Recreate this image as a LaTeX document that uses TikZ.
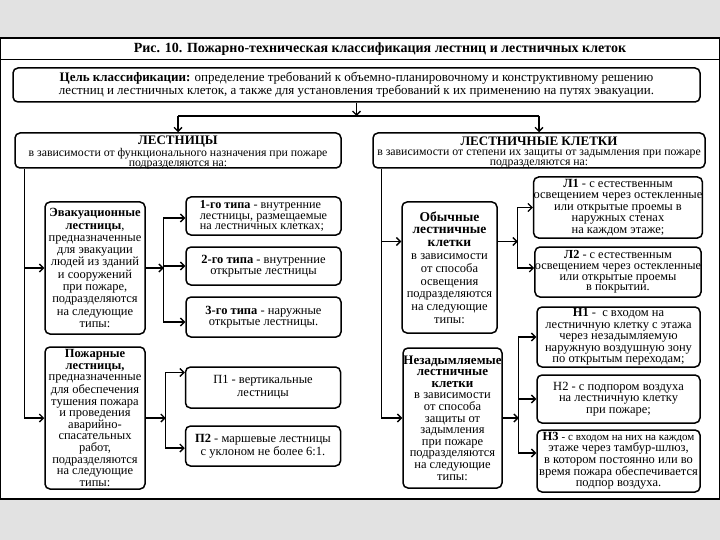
\documentclass[tikz,border=0pt]{standalone}
\usepackage{fontspec}
\setmainfont{Liberation Serif}
\usetikzlibrary{arrows.meta,calc}
\definecolor{bggray}{RGB}{226,226,226}
\begin{document}
\begin{tikzpicture}[x=1pt,y=-1pt,
  box/.style={draw, line width=1.5pt, rounded corners=5pt, fill=white, inner sep=0pt,
    align=center, font=\fontsize{12.5}{11.5}\selectfont},
  htext/.style={inner sep=0pt, align=center, font=\fontsize{11.8}{10}\selectfont},
  conn/.style={line width=1.3pt},
  arr/.style={line width=1.3pt, -{Straight Barb[length=4pt,width=8pt]}}
]
\fill[bggray] (0,0) rectangle (720,540);
\useasboundingbox (0,0) rectangle (720,540);
\draw[line width=1.3pt, fill=white] (0.7,38) rectangle (719.3,499);
\draw[line width=1pt] (0.7,60) -- (719.3,60);
\node (title) at (380,49) {\fontsize{14}{14}\selectfont\bfseries Рис. 10. Пожарно-техническая классификация лестниц и лестничных клеток};

% goal
\node[box, minimum width=687pt, minimum height=34pt, font=\fontsize{13}{12.5}\selectfont] (goal) at (356.5,85)
  {\textbf{Цель классификации:} определение требований к объемно-планировочному и конструктивному решению\\
   лестниц и лестничных клеток, а также для установления требований к их применению на путях эвакуации.};

% headers
\node[box, minimum width=326pt, minimum height=35pt] (lh) at (178,150.5) {};
\node[htext] (lht) at (178,152.3)
  {{\fontsize{13}{11}\selectfont\bfseries ЛЕСТНИЦЫ}\\
   в зависимости от функционального назначения при пожаре\\
   подразделяются на:};
\node[box, minimum width=332pt, minimum height=35pt] (rh) at (539,150.5) {};
\node[htext] (rht) at (539,152.3)
  {{\fontsize{13}{11}\selectfont\bfseries ЛЕСТНИЧНЫЕ КЛЕТКИ}\\
   в зависимости от степени их защиты от задымления при пожаре\\
   подразделяются на:};

% left column
\node[box, minimum width=100pt, minimum height=132pt, font=\fontsize{12.5}{12.3}\selectfont] (ev) at (95,268)
  {\textbf{Эвакуационные}\\ \textbf{лестницы},\\ предназначенные\\ для эвакуации\\ людей из зданий\\
   и сооружений\\ при пожаре,\\ подразделяются\\ на следующие\\ типы:};
\node[box, minimum width=100pt, minimum height=142pt, font=\fontsize{12.5}{11.6}\selectfont] (pz) at (95,418)
  {\textbf{Пожарные}\\ \textbf{лестницы,}\\ предназначенные\\ для обеспечения\\ тушения пожара\\
   и проведения\\ аварийно-\\ спасательных\\ работ,\\ подразделяются\\ на следующие\\ типы:};

\node[box, minimum width=155pt, minimum height=38pt, align=left, font=\fontsize{12.2}{10.6}\selectfont] (t1) at (263.5,216)
  {\textbf{1-го типа} - внутренние\\ лестницы, размещаемые\\ на лестничных клетках;};
\node[box, minimum width=155pt, minimum height=38pt] (t2) at (263.5,266)
  {\textbf{2-го типа} - внутренние\\ открытые лестницы};
\node[box, minimum width=155pt, minimum height=40pt] (t3) at (263.5,317)
  {\textbf{3-го типа} - наружные\\ открытые лестницы.};
\node[box, minimum width=155pt, minimum height=41pt, font=\fontsize{12.5}{13}\selectfont] (p1) at (263,387.5)
  {П1 - вертикальные\\ лестницы};
\node[box, minimum width=155pt, minimum height=40pt] (p2) at (263,446)
  {\textbf{П2} - маршевые лестницы\\ с уклоном не более 6:1.};

% right column
\node[box, minimum width=95pt, minimum height=131pt, font=\fontsize{12.5}{12.8}\selectfont] (ob) at (449.5,267.5)
  {{\fontsize{13.5}{13}\selectfont\bfseries Обычные}\\ {\fontsize{13.5}{13}\selectfont\bfseries лестничные}\\
   {\fontsize{13.5}{13}\selectfont\bfseries клетки}\\ в зависимости\\ от способа\\ освещения\\
   подразделяются\\ на следующие\\ типы:};
\node[box, minimum width=99pt, minimum height=140pt, font=\fontsize{12.5}{11.6}\selectfont] (nz) at (452.5,418)
  {{\fontsize{13}{10}\selectfont\bfseries Незадымляемые}\\ {\fontsize{13}{10}\selectfont\bfseries лестничные}\\
   {\fontsize{13}{10}\selectfont\bfseries клетки}\\ в зависимости\\ от способа\\ защиты от\\ задымления\\
   при пожаре\\ подразделяются\\ на следующие\\ типы:};

\node[box, minimum width=162pt, minimum height=61pt] (l1) at (618,207.5)
  {\textbf{Л1} - с естественным\\ освещением через остекленные\\ или открытые проемы в\\ наружных стенах\\ на каждом этаже;};
\node[box, minimum width=162pt, minimum height=50pt, font=\fontsize{12.3}{10.8}\selectfont] (l2) at (618,272)
  {\textbf{Л2} - с естественным\\ освещением через остекленные\\ или открытые проемы\\ в покрытии.};
\node[box, minimum width=163pt, minimum height=60pt] (n1) at (618.5,337)
  {\textbf{Н1} -~ с входом на\\ лестничную клетку с этажа\\ через незадымляемую\\ наружную воздушную зону\\ по открытым переходам;};
\node[box, minimum width=163pt, minimum height=48pt] (n2) at (618.5,399)
  {Н2 - с подпором воздуха\\ на лестничную клетку\\ при пожаре;};
\node[box, minimum width=163pt, minimum height=62pt, font=\fontsize{12.5}{11.2}\selectfont] (n3) at (618.5,461)
  {\textbf{Н3} {\fontsize{11}{11}\selectfont - с входом на них на каждом}\\ этаже через тамбур-шлюз,\\ в котором постоянно или во\\ время пожара обеспечивается\\ подпор воздуха.};

% top connectors
\coordinate (hb) at (356.5,116);
\coordinate (hl) at (178,116);
\coordinate (hr) at (539,116);
\draw[arr] (goal.south) -- (hb);
\draw[conn] (hl) -- (hr);
\draw[arr] (hl) -- (lh.north);
\draw[arr] (hr) -- (rh.north);

% left trunk
\coordinate (lt) at ([xshift=10pt]lh.south west);
\draw[arr] (lt) |- (ev.west);
\draw[arr] (lt) |- (pz.west);
\coordinate (ej) at ([xshift=18pt]ev.east);
\draw[arr] (ev.east) -- (ej);
\draw[arr] (ej) |- ([yshift=-2pt]t1.west);
\draw[arr] (ej) |- (t2.west);
\draw[arr] (ej) |- ([yshift=-5pt]t3.west);
\coordinate (pj) at ([xshift=20pt]pz.east);
\draw[arr] (pz.east) -- (pj);
\draw[arr] (pj) |- ([yshift=15pt]p1.west);
\draw[arr] (pj) |- ([yshift=-2pt]p2.west);

% right trunk
\coordinate (rt) at ([xshift=9pt]rh.south west);
\draw[arr] (rt) |- ([yshift=26pt]ob.west);
\draw[arr] (rt) |- (nz.west);
\coordinate (oj) at ([xshift=20pt,yshift=26pt]ob.east);
\draw[arr] ([yshift=26pt]ob.east) -- (oj);
\draw[arr] (oj) |- (l1.west);
\draw[arr] (oj) |- ([yshift=4pt]l2.west);
\coordinate (nj) at ([xshift=16pt]nz.east);
\draw[arr] (nz.east) -- (nj);
\draw[arr] (nj) |- (n1.west);
\draw[arr] (nj) |- (n2.west);
\draw[arr] (nj) |- ([yshift=8pt]n3.west);
\end{tikzpicture}
\end{document}
